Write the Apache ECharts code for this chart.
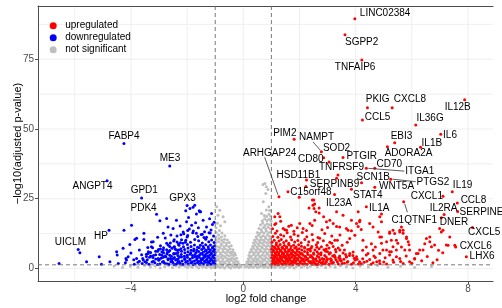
<!DOCTYPE html>
<html><head><meta charset="utf-8">
<script src="https://cdn.jsdelivr.net/npm/echarts@6/dist/echarts.min.js"></script>
<style>html,body{margin:0;padding:0;background:#fff}#c{width:502px;height:308px}</style>
</head><body><div id="c"></div>
<script>
// ---------- DATA ----------
const xTicks = [-4, 0, 4, 8];
const yTicks = [0, 25, 50, 75];
const xGrid = [-6, -4, -2, 0, 2, 4, 6, 8];
const yGrid = [0, 12.5, 25, 37.5, 50, 62.5, 75, 87.5];
const fcCut = 1;
const padjCut = 0.05;
const seriesNames = ['upregulated', 'downregulated', 'not significant'];

// labelled genes: [name, log2FC, -log10(padj)]
const upLabeled = [
["LINC02384",3.97,89.5],["SGPP2",3.62,83.8],["TNFAIP6",4.22,74.7],["PKIG",4.42,57.6],["CXCL8",5.30,57.6],
["IL12B",7.88,60.5],["CCL5",4.24,53.2],["IL36G",6.14,51.4],["IL6",7.03,48.1],["EBI3",5.39,45.1],
["IL1B",6.31,43.5],["ADORA2A",5.13,43.6],["PTGIR",3.55,39.8],["PIM2",1.81,46.3],["NAMPT",2.78,41.8],
["SOD2",2.86,39.7],["CD80",3.05,38.2],["TNFRSF9",3.37,33.5],["SERPINB9",3.32,32.3],["HSD11B1",2.25,31.7],
["C15orf48",1.59,27.5],["ARHGAP24",1.27,25.7],["IL23A",3.25,26.5],["STAT4",3.85,28.4],["SCN1B",4.21,30.7],
["WNT5A",4.68,29.1],["PTGS2",5.25,32.0],["CD70",4.68,35.9],["ITGA1",4.38,35.9],["IL1A",4.38,22.1],
["C1QTNF1",5.71,23.9],["CXCL1",7.11,25.9],["IL19",7.44,27.5],["CCL8",7.62,23.5],["IL2RA",7.15,19.3],
["SERPINE1",7.63,20.4],["DNER",7.05,18.2],["CXCL5",8.16,14.7],["CXCL6",7.56,7.7],["LHX6",7.94,4.2]
];
const downLabeled = [
["FABP4",-4.25,44.8],["ME3",-2.62,36.7],["ANGPT4",-4.85,31.4],["GPD1",-3.62,25.3],
["PDK4",-3.09,19.4],["GPX3",-2.0,22.6],["HP",-4.78,13.7],["UICLM",-5.88,6.8]
];

const upOther = [
[1.02,1.6],[1.08,2.1],[1.13,1.5],[1.19,1.9],[1.25,1.4],[1.3,2.2],[1.36,1.7],[1.42,1.5],[1.47,2.0],[1.53,1.6],[1.59,2.2],[1.65,1.5],[1.71,1.9],[1.77,1.4],[1.83,2.1],[1.9,1.7],[1.97,1.5],[2.04,2.0],[2.11,1.6],[2.19,1.8],[2.27,1.5],[2.36,2.1],[2.45,1.6],[2.55,1.9],[2.66,1.5],[2.77,2.0],[2.9,1.7],[3.05,1.5],[3.21,2.1],[3.38,1.6],[3.6,1.9],[3.85,1.5],[4.2,1.7],[4.62,2.0],[5.1,1.6],
[1.04,2.7],[1.1,3.1],[1.16,2.5],[1.22,2.9],[1.28,2.6],[1.34,3.2],[1.4,2.8],[1.46,2.4],[1.52,3.0],[1.58,2.6],[1.64,3.1],[1.7,2.7],[1.76,2.5],[1.82,3.0],[1.88,2.7],[1.94,3.2],[2.01,2.5],[2.08,2.9],[2.16,2.6],[2.24,3.1],[2.32,2.7],[2.41,2.5],[2.5,3.0],[2.61,2.7],[2.73,3.1],[2.84,2.5],[2.97,2.9],[3.12,2.6],[3.3,3.1],[3.49,2.7],[3.72,2.5],[3.98,3.0],[4.4,2.6],[4.85,2.8],[5.6,2.5],[6.1,3.4],
[1.01,3.8],[1.07,3.5],[1.13,4.1],[1.19,3.7],[1.25,3.4],[1.31,4.0],[1.37,3.6],[1.43,4.2],[1.49,3.8],[1.55,3.5],[1.61,4.0],[1.67,3.7],[1.73,4.2],[1.8,3.5],[1.86,3.9],[1.93,3.6],[2.0,4.1],[2.07,3.7],[2.14,3.4],[2.22,4.0],[2.3,3.6],[2.39,4.2],[2.48,3.7],[2.58,3.5],[2.69,4.0],[2.81,3.6],[2.95,4.1],[3.1,3.5],[3.27,3.9],[3.45,3.5],[3.67,4.1],[3.95,3.7],[4.25,3.5],[4.7,3.9],
[1.03,4.8],[1.09,4.5],[1.15,5.1],[1.21,4.6],[1.27,4.9],[1.33,4.4],[1.39,5.2],[1.45,4.7],[1.51,4.4],[1.57,5.0],[1.63,4.6],[1.69,5.2],[1.76,4.8],[1.83,4.5],[1.9,5.0],[1.97,4.6],[2.05,5.2],[2.13,4.7],[2.21,4.4],[2.3,5.0],[2.4,4.6],[2.51,5.1],[2.63,4.5],[2.76,4.9],[2.9,4.6],[3.06,5.2],[3.24,4.7],[3.43,4.5],[3.64,5.0],[3.9,4.6],
[1.02,5.8],[1.08,6.2],[1.14,5.5],[1.2,6.0],[1.26,5.6],[1.32,6.3],[1.38,5.8],[1.44,5.4],[1.5,6.1],[1.57,5.7],[1.64,6.3],[1.71,5.5],[1.78,6.0],[1.85,5.6],[1.92,6.2],[2.0,5.7],[2.09,5.4],[2.18,6.1],[2.28,5.7],[2.39,6.3],[2.5,5.5],[2.63,6.0],[2.77,5.6],[2.93,6.2],[3.1,5.6],[3.3,6.0],[3.55,5.5],
[1.01,6.9],[1.07,6.6],[1.13,7.3],[1.19,6.8],[1.26,7.1],[1.33,6.5],[1.4,7.2],[1.47,6.8],[1.54,7.4],[1.61,6.6],[1.68,7.0],[1.75,6.5],[1.83,7.3],[1.91,6.8],[1.99,7.1],[2.08,6.6],[2.18,7.3],[2.29,6.8],[2.41,7.2],[2.55,6.6],[2.7,7.1],[2.87,6.7],[3.05,7.3],[3.28,6.8],
[1.03,8.0],[1.1,7.7],[1.17,8.4],[1.24,7.9],[1.31,8.6],[1.38,7.6],[1.46,8.2],[1.54,7.8],[1.62,8.5],[1.7,7.9],[1.79,8.3],[1.88,7.7],[1.97,8.5],[2.07,8.0],[2.18,7.6],[2.3,8.4],[2.44,7.9],[2.6,8.5],[2.78,7.8],[2.98,8.3],[3.2,7.9],
[1.02,9.4],[1.1,10.1],[1.18,9.1],[1.27,9.8],[1.35,10.4],[1.44,9.3],[1.53,9.9],[1.62,9.0],[1.72,10.3],[1.83,9.5],[1.94,10.0],[2.06,9.2],[2.19,10.4],[2.33,9.6],[2.48,10.2],[2.65,9.3],[2.85,9.9],[3.08,9.4],[3.35,10.1],
[1.05,11.5],[1.14,12.6],[1.23,11.2],[1.33,12.1],[1.44,11.6],[1.56,12.8],[1.68,11.3],[1.81,12.3],[1.95,11.7],[2.1,12.9],[2.26,11.4],[2.45,12.2],[2.66,11.1],[2.9,12.5],[3.15,11.6],
[1.04,14.2],[1.12,15.8],[1.2,13.4],[1.33,16.9],[1.48,13.9],[1.62,15.1],[1.8,13.3],[1.92,14.6],[2.25,13.6],[2.45,15.4],[2.8,13.9],[3.0,14.7],
[1.24,19.7],[1.12,18.5],[1.3,18.5],[1.16,16.1],[1.42,14.3],[1.54,13.7],[1.71,15.5],[2.01,16.1],[2.37,16.1],[2.13,14.3],[2.51,24.5],[2.54,23.1],[2.7,21.7],[2.58,20.3],[2.7,19.9],[2.54,17.3],[2.86,18.5],[3.08,17.3],[2.96,16.7],[3.2,16.1],[3.32,20.3],[3.55,19.1],[3.43,14.9],[3.67,14.3],[3.85,17.3],[4.09,20.3],[4.15,17.3],[4.03,16.1],[4.2,14.0],[3.85,13.5],[3.97,11.9],[4.92,19.5],[4.62,14.9],[4.5,16.1],[4.8,13.1],[4.92,11.3],[5.21,13.1],[5.39,12.5],[5.57,13.1],[5.69,13.7],[5.81,11.3],[5.87,9.6],[6.7,7.8],[6.81,8.4],[6.22,5.4],[5.33,7.8],[5.1,9.6],[5.27,6.0],
[3.32,15.0],[3.73,13.7],[4.14,16.7],[4.86,18.5],[4.92,16.7],[5.21,12.6],[5.33,13.7],[5.57,13.7],[5.63,14.9],[5.69,12.6],[6.52,10.7],[6.64,11.3],[6.99,14.3],[7.11,13.7],[7.05,13.1],[7.29,8.3],[7.35,11.3],[6.46,8.9],[6.28,6.6],[6.1,3.6],[5.92,6.6],[5.75,6.6],[5.63,7.7],[5.45,6.6],[5.45,10.1],[5.27,10.1],[5.81,10.7],[4.86,11.3],[4.56,8.9],[4.62,6.6],[4.86,5.4],[5.1,6.6],[5.21,6.0],[4.38,7.7],[4.44,5.4],[4.26,10.1],[4.09,15.0],[4.03,4.2],[3.79,5.4],[3.44,6.6],[3.26,4.2],[3.14,3.0],[3.44,12.0],[3.26,10.1],[3.79,10.7],[7.53,8.3],
[4.38,4.8],[4.97,6.6],[5.33,3.0],[5.57,3.6],[6.16,5.4],[6.4,6.6],[6.64,9.6],[7.23,8.4],[3.91,5.9],[4.14,2.4],[3.44,3.0],[3.67,4.2],[5.21,4.8],[4.86,1.8],[5.69,1.8],[5.92,2.4],
[2.46,24.5],[2.48,22.7],[2.34,21.7],[2.52,21.5],[1.99,25.5],[2.23,29.4],
[2.42,1.9],[2.5,2.3],[2.6,1.4],[2.7,2.4],[2.82,1.6],[2.95,2.2],[3.0,3.4],[3.15,1.9],[3.18,4.5],[3.35,2.4],[3.4,3.8],[3.52,1.8],[3.58,3.3],[3.7,2.2],[3.78,4.6],[3.92,2.0],[4.05,3.3],[4.1,1.6],[4.3,2.2],[4.5,3.2],[4.55,1.5],[4.75,2.4],[2.45,4.1],[2.56,3.3],[2.68,5.3],[2.87,3.3],[3.0,6.0],[2.35,6.9],[2.62,7.6],[2.95,7.0],[3.38,7.3],[3.6,6.6],[3.15,9.0],[2.72,10.8],[3.52,8.3],[3.7,9.4],
[5.0,2.3],[5.35,2.2],[5.45,4.2],[5.8,4.5],[6.0,1.9],[6.35,2.8],[6.55,4.3],[6.9,3.1],[7.1,5.6],[6.95,6.5],[5.9,8.5],[5.5,9.0],[4.7,7.7],[4.25,6.5],[4.65,4.5],[6.75,2.0],[5.05,3.8],[4.92,9.0]
];

const downOther = [
[-1.02,1.7],[-1.08,2.1],[-1.15,1.5],[-1.21,1.9],[-1.28,1.4],[-1.35,2.2],[-1.42,1.6],[-1.49,2.0],[-1.56,1.5],[-1.63,2.1],[-1.71,1.7],[-1.79,1.4],[-1.87,2.0],[-1.96,1.6],[-2.05,2.2],[-2.15,1.5],[-2.26,1.9],[-2.38,1.6],[-2.51,2.1],[-2.65,1.5],[-2.8,1.9],[-2.97,1.6],[-3.15,2.0],[-3.36,1.5],[-3.6,1.8],[-3.88,1.5],[-4.2,2.0],
[-1.01,2.8],[-1.07,2.5],[-1.13,3.1],[-1.19,2.7],[-1.25,2.4],[-1.31,3.0],[-1.38,2.6],[-1.45,3.2],[-1.52,2.8],[-1.59,2.5],[-1.66,3.1],[-1.74,2.7],[-1.82,2.4],[-1.9,3.0],[-1.99,2.6],[-2.08,3.2],[-2.18,2.7],[-2.29,2.5],[-2.41,3.0],[-2.54,2.6],[-2.68,3.1],[-2.84,2.5],[-3.01,2.9],[-3.2,2.6],[-3.42,3.1],[-3.7,2.6],
[-1.03,3.7],[-1.09,4.1],[-1.16,3.5],[-1.22,3.9],[-1.29,3.4],[-1.36,4.2],[-1.43,3.7],[-1.5,3.5],[-1.57,4.0],[-1.65,3.6],[-1.73,4.2],[-1.81,3.8],[-1.9,3.4],[-1.99,4.0],[-2.09,3.6],[-2.2,4.1],[-2.32,3.5],[-2.45,3.9],[-2.6,3.6],[-2.76,4.2],[-2.93,3.7],[-3.12,3.4],[-3.34,4.0],[-3.58,3.6],
[-1.02,4.9],[-1.08,4.5],[-1.14,5.2],[-1.2,4.7],[-1.27,4.4],[-1.34,5.0],[-1.41,4.6],[-1.48,5.2],[-1.56,4.8],[-1.64,4.4],[-1.72,5.0],[-1.81,4.6],[-1.9,5.1],[-2.0,4.7],[-2.1,4.4],[-2.21,5.0],[-2.33,4.6],[-2.47,5.2],[-2.62,4.7],[-2.79,4.5],[-2.98,5.0],[-3.2,4.6],[-3.45,5.1],
[-1.01,5.7],[-1.07,6.2],[-1.14,5.5],[-1.21,6.0],[-1.28,5.6],[-1.35,6.3],[-1.43,5.8],[-1.51,5.4],[-1.59,6.1],[-1.68,5.7],[-1.77,6.3],[-1.87,5.5],[-1.97,6.0],[-2.08,5.6],[-2.2,6.2],[-2.33,5.7],[-2.48,5.4],[-2.65,6.1],[-2.84,5.6],[-3.05,6.2],[-3.3,5.7],
[-1.03,6.8],[-1.1,7.3],[-1.17,6.6],[-1.24,7.1],[-1.32,6.5],[-1.4,7.2],[-1.48,6.8],[-1.57,7.4],[-1.66,6.6],[-1.76,7.0],[-1.86,6.5],[-1.97,7.3],[-2.09,6.8],[-2.22,7.1],[-2.37,6.6],[-2.54,7.2],[-2.73,6.7],[-2.95,7.0],
[-1.02,8.1],[-1.09,7.7],[-1.17,8.4],[-1.25,7.8],[-1.34,8.5],[-1.43,7.9],[-1.53,8.3],[-1.63,7.6],[-1.74,8.4],[-1.86,7.9],[-1.99,8.6],[-2.13,7.8],[-2.29,8.3],[-2.47,7.7],[-2.68,8.4],
[-1.04,9.3],[-1.13,10.2],[-1.23,9.6],[-1.34,10.5],[-1.46,9.1],[-1.59,9.9],[-1.73,10.4],[-1.88,9.4],[-2.05,10.1],[-2.24,9.2],[-2.46,10.3],
[-1.06,11.6],[-1.18,12.7],[-1.31,11.2],[-1.46,12.3],[-1.62,11.5],[-1.8,12.8],[-2.0,11.3],[-2.22,12.1],
[-6.56,1.8],[-5.82,5.6],[-5.58,2.4],[-5.13,4.2],[-5.05,1.5],[-4.75,2.4],[-4.49,4.8],[-4.51,6.0],[-4.25,13.7],[-4.28,7.2],[-3.98,15.5],[-3.86,10.4],[-3.8,10.8],[-4.04,8.6],[-4.16,3.0],[-4.18,3.6],[-3.54,12.6],[-3.54,10.4],[-3.27,9.5],[-3.23,7.4],[-2.97,17.1],[-2.85,12.6],[-2.73,17.9],[-2.68,14.9],
[-1.73,22.7],[-1.9,21.5],[-1.55,20.3],[-1.43,17.3],[-2.02,16.7],[-2.38,17.3],[-2.5,14.3],[-1.84,15.5],[-1.31,14.9],[-1.13,19.7],[-1.67,12.6],[-2.14,13.1],
[-2.05,20.7],[-1.79,21.9],[-1.57,20.7],[-1.52,20.3],[-1.67,19.5],
[-4.45,1.8],[-4.1,4.2],[-3.8,3.6],[-3.56,3.0],[-3.39,5.4],[-3.27,7.8],[-3.21,9.6],[-3.03,3.6],[-2.85,6.6],[-2.73,9.0],
[-3.45,2.1],[-3.3,4.5],[-3.12,6.2],[-3.05,11.2],[-2.95,8.1],[-2.9,4.7],[-2.78,10.9],[-2.7,5.8],[-2.62,7.9],[-2.58,12.0],[-2.55,3.1],[-2.48,9.8],[-2.42,6.9],[-2.36,11.6],[-2.31,8.8],[-2.27,4.1],[-2.2,10.3],[-2.12,12.4],[-2.06,9.4],[-1.98,11.8],[-1.92,14.1],[-1.78,13.4],[-1.6,14.6],[-1.5,12.2],[-1.38,13.2],[-1.22,12.8],[-1.1,15.8],[-1.2,17.8],[-1.04,16.6],[-1.95,18.3],[-2.25,15.2],
[-2.24,1.6],[-2.33,2.2],[-2.46,1.4],[-2.58,2.4],[-2.72,1.7],[-2.88,2.3],[-3.05,1.4],[-3.25,2.3],[-3.5,2.4],[-3.75,2.2],[-2.36,3.2],[-2.5,3.6],[-2.68,3.5],[-2.85,4.0],[-3.0,3.2],[-3.22,3.9],[-3.45,4.3],[-2.4,5.4],[-2.56,4.4],[-2.72,5.2],[-2.9,5.9],[-3.12,4.9],[-3.38,6.0],[-2.3,6.6],[-2.45,7.8],[-2.62,6.4],[-2.84,7.4],[-3.02,6.8],[-2.15,9.0],[-2.36,9.5],[-2.6,9.1],[-3.4,7.5],[-3.62,4.9],[-3.9,3.1],[-4.0,5.5],[-3.7,6.6],[-1.98,13.6],[-1.4,11.1],[-1.15,13.8],[-1.7,16.4]
];

const nsPoints = [
[-0.98,0.4],[-0.9,0.8],[-0.83,0.3],[-0.75,0.7],[-0.67,0.2],[-0.6,0.9],[-0.52,0.5],[-0.45,0.2],[-0.37,0.8],[-0.3,0.4],[-0.22,0.7],[-0.15,0.3],[-0.08,0.6],
[-0.97,1.5],[-0.89,1.2],[-0.81,1.8],[-0.73,1.4],[-0.65,1.9],[-0.57,1.3],[-0.49,1.7],[-0.41,1.2],[-0.33,1.8],[-0.25,1.4],[-0.17,1.6],[-0.12,1.2],
[-0.99,2.5],[-0.91,2.9],[-0.83,2.3],[-0.75,2.7],[-0.67,2.2],[-0.59,2.8],[-0.51,2.4],[-0.43,2.9],[-0.35,2.3],[-0.27,2.6],[-0.19,2.4],
[-0.96,3.6],[-0.88,3.2],[-0.8,3.9],[-0.72,3.4],[-0.64,4.0],[-0.56,3.5],[-0.48,3.3],[-0.4,3.8],[-0.32,3.4],[-0.24,3.7],
[-0.98,4.7],[-0.9,4.4],[-0.82,5.1],[-0.74,4.6],[-0.66,4.3],[-0.58,4.9],[-0.5,4.5],[-0.42,5.0],[-0.34,4.6],[-0.28,4.8],
[-0.97,5.8],[-0.89,6.2],[-0.81,5.5],[-0.72,6.0],[-0.64,5.6],[-0.55,6.1],[-0.47,5.7],[-0.39,5.9],[-0.31,5.5],
[-0.99,6.9],[-0.9,6.6],[-0.82,7.3],[-0.73,6.8],[-0.65,7.1],[-0.56,6.6],[-0.47,7.0],[-0.37,6.7],
[-0.96,8.0],[-0.87,7.7],[-0.78,8.4],[-0.69,7.9],[-0.6,8.2],[-0.51,7.8],[-0.43,8.1],
[-0.98,9.2],[-0.88,9.6],[-0.79,8.9],[-0.7,9.4],[-0.6,9.0],[-0.5,9.3],
[-0.97,10.3],[-0.87,10.7],[-0.77,10.1],[-0.67,10.5],[-0.57,10.2],
[-0.98,11.4],[-0.88,12.0],[-0.78,11.3],[-0.66,11.7],
[-0.96,12.9],[-0.85,13.6],[-0.76,12.7],
[-0.95,22.1],[-0.84,20.9],[-0.9,19.1],[-0.72,18.5],[-0.66,16.7],[-0.92,16.2],[-0.81,15.3],[-0.97,14.6],
[0.06,0.5],[0.13,0.8],[0.2,0.3],[0.28,0.7],[0.35,0.4],[0.43,0.9],[0.5,0.3],[0.58,0.6],[0.65,0.9],[0.73,0.4],[0.8,0.7],[0.88,0.3],[0.96,0.8],
[0.1,1.4],[0.18,1.8],[0.26,1.3],[0.34,1.7],[0.42,1.2],[0.5,1.9],[0.58,1.4],[0.66,1.7],[0.74,1.3],[0.82,1.8],[0.9,1.5],[0.97,1.2],
[0.13,2.4],[0.21,2.8],[0.29,2.3],[0.37,2.7],[0.45,2.5],[0.53,2.9],[0.61,2.4],[0.69,2.6],[0.77,2.9],[0.85,2.3],[0.93,2.7],[0.99,2.4],
[0.18,3.5],[0.26,3.9],[0.34,3.3],[0.42,3.7],[0.5,3.4],[0.58,4.0],[0.66,3.6],[0.74,3.3],[0.82,3.8],[0.9,3.5],[0.98,3.9],
[0.2,4.6],[0.28,4.4],[0.36,5.0],[0.44,4.5],[0.52,4.9],[0.6,4.4],[0.68,4.8],[0.76,4.5],[0.84,5.1],[0.92,4.6],[0.99,4.9],
[0.23,5.7],[0.31,6.1],[0.39,5.5],[0.47,5.9],[0.55,5.6],[0.63,6.2],[0.71,5.7],[0.79,6.0],[0.87,5.5],[0.95,6.1],
[0.28,6.8],[0.36,7.2],[0.44,6.6],[0.52,7.0],[0.6,6.7],[0.68,7.3],[0.76,6.8],[0.84,7.1],[0.92,6.6],[0.99,7.2],
[0.33,7.9],[0.41,8.3],[0.49,7.7],[0.57,8.1],[0.65,7.8],[0.73,8.4],[0.81,7.9],[0.89,8.2],[0.97,7.7],
[0.36,9.1],[0.44,9.5],[0.52,8.9],[0.6,9.3],[0.68,9.0],[0.76,9.6],[0.84,9.1],[0.92,9.4],[0.99,8.9],
[0.4,10.2],[0.48,10.6],[0.56,10.0],[0.64,10.4],[0.72,10.1],[0.8,10.7],[0.88,10.2],[0.96,10.5],
[0.46,11.4],[0.54,11.9],[0.62,11.2],[0.7,11.7],[0.78,11.3],[0.86,12.0],[0.94,11.5],
[0.5,12.9],[0.58,12.5],[0.66,13.2],[0.74,12.7],[0.82,13.4],[0.9,12.8],[0.98,13.1],
[0.56,14.3],[0.64,13.9],[0.72,14.7],[0.8,14.1],[0.88,14.8],[0.96,14.2],
[0.61,15.6],[0.69,16.2],[0.77,15.4],[0.85,16.0],[0.93,15.7],
[0.68,17.1],[0.76,17.8],[0.84,17.2],[0.92,17.6],[0.99,16.9],
[0.75,19.0],[0.83,18.6],[0.91,19.4],[0.97,18.8],
[0.77,30.5],[0.82,29.3],[0.88,28.3],[0.8,26.9],[0.71,23.9],[0.91,22.1],[0.82,21.0],[0.65,19.7],[0.94,20.8],[0.7,30.1],
[-1.03,0.4],[-1.08,0.9],[-1.14,0.2],[-1.2,0.7],[-1.26,1.1],[-1.32,0.3],[-1.38,0.8],[-1.45,0.5],[-1.52,1.0],[-1.59,0.2],[-1.66,0.7],[-1.74,1.2],[-1.82,0.4],[-1.9,0.9],[-1.99,0.3],[-2.08,0.8],[-2.18,1.1],[-2.28,0.5],[-2.4,0.9],[-2.52,0.3],[-2.66,1.0],[-2.8,0.6],[-2.96,0.2],[-3.13,0.9],[-3.31,0.5],[-3.52,1.1],[-3.75,0.4],[-4.02,0.8],[-4.3,0.3],[-4.6,0.9],
[1.03,0.5],[1.08,1.0],[1.13,0.3],[1.19,0.8],[1.25,1.2],[1.31,0.4],[1.37,0.9],[1.44,0.2],[1.51,0.7],[1.58,1.1],[1.65,0.4],[1.73,0.9],[1.81,0.2],[1.89,0.7],[1.98,1.1],[2.07,0.4],[2.17,0.9],[2.28,0.3],[2.39,0.8],[2.51,1.2],[2.64,0.5],[2.78,1.0],[2.93,0.3],[3.09,0.8],[3.27,0.4],[3.46,1.0],[3.67,0.6],[3.9,0.2],[4.16,0.9],[4.45,0.5],[4.78,1.1],[5.15,0.4],[5.6,0.8],[6.1,0.3],[6.7,0.7]
];

// ---------- LAYOUT (pixel offsets of labels, not data) ----------
const labelOffsets = {
LINC02384:[5,-5.4],SGPP2:[0,7.3],TNFAIP6:[-27,6.7],PKIG:[-1.7,-8.4],CXCL8:[1.7,-8.4],IL12B:[-20,7.6],
CCL5:[2.3,-2.7],IL36G:[0.7,-7.3],IL6:[2.3,0.7],EBI3:[-4,-6],IL1B:[1,-3.7],ADORA2A:[-2.7,6.6],
PTGIR:[3.4,-1.3],PIM2:[-21,-6],NAMPT:[-22.4,-15],SOD2:[-0.7,-9.4],CD80:[-31,-2.7],TNFRSF9:[-19,-7.7],
SERPINB9:[-26.7,5.7],HSD11B1:[-30,-5],C15orf48:[2.4,0.6],ARHGAP24:[-36,-44],IL23A:[-8.7,8.4],
STAT4:[1.6,6],SCN1B:[-5,-6],WNT5A:[4.3,-1.3],PTGS2:[25.7,2.7],CD70:[1.7,-4.3],ITGA1:[39,3.4],
IL1A:[2.6,1.6],C1QTNF1:[-12.3,18.3],CXCL1:[-32.3,-0.3],IL19:[0.6,-6.7],CCL8:[3.3,-2.7],
IL2RA:[-14.5,-6.2],SERPINE1:[2,0.2],DNER:[-1.5,4.2],CXCL5:[-4.4,4.4],CXCL6:[4,-1],LHX6:[3.3,-0.7],
FABP4:[-15.5,-7.3],ME3:[-10,-7.7],ANGPT4:[-34.6,5.3],GPD1:[-11,-7.7],PDK4:[-26,-6],GPX3:[-18,-7],
HP:[-15,6],UICLM:[-23.3,-7]
};
const leaderLines = {
NAMPT:[-8.4,-10,-1,-1.5], ARHGAP24:[-14.3,-39.5,-1,-2], ITGA1:[2,0,38,2.8],
PTGS2:[2,0,25,2.5], C1QTNF1:[1,2,3.7,10.5]
};

const FONT = '"Liberation Sans", Arial, Helvetica, sans-serif';
const allLabeled = upLabeled.concat(downLabeled);
const X_MIN = -7.31, X_MAX = 8.89, Y_MIN = -4.5, Y_MAX = 94.1;
const minus = v => String(v).replace('-', '\u2212');

const chart = echarts.init(document.getElementById('c'), null, {renderer: 'canvas'});

function vLines(vals, style, z) {
  return {
    type: 'custom', coordinateSystem: 'cartesian2d', silent: true, z: z, clip: true,
    data: vals.map(v => [v, 0]),
    renderItem: (params, api) => {
      const cs = params.coordSys;
      const x = api.coord([api.value(0), 0])[0];
      return {type: 'line', shape: {x1: x, y1: cs.y, x2: x, y2: cs.y + cs.height}, style: style};
    }
  };
}
function hLines(vals, style, z) {
  return {
    type: 'custom', coordinateSystem: 'cartesian2d', silent: true, z: z, clip: true,
    data: vals.map(v => [0, v]),
    renderItem: (params, api) => {
      const cs = params.coordSys;
      const y = api.coord([0, api.value(1)])[1];
      return {type: 'line', shape: {x1: cs.x, y1: y, x2: cs.x + cs.width, y2: y}, style: style};
    }
  };
}
const gridStyle = {stroke: '#EBEBEB', lineWidth: 0.8};
const dashStyle = {stroke: '#6A6A6A', lineWidth: 0.9, lineDash: [4, 3]};

const option = {
  animation: false,
  backgroundColor: '#fff',
  grid: {left: 38, top: 6, width: 455, height: 275, containLabel: false, outerBoundsMode: 'none'},
  legend: {
    orient: 'vertical', left: 44.7, top: 14.7, itemWidth: 14, itemHeight: 7, itemGap: 0,
    icon: 'circle', data: seriesNames,
    textStyle: {fontSize: 10, fontFamily: FONT, color: '#000', lineHeight: 12, padding: 0}
  },
  xAxis: [{
    type: 'value', min: X_MIN, max: X_MAX, position: 'bottom',
    axisLine: {show: true, onZero: false, lineStyle: {color: '#4d4d4d', width: 1}},
    axisTick: {show: true, length: 3, customValues: xTicks, lineStyle: {color: '#4d4d4d'}},
    axisLabel: {show: true, customValues: xTicks, margin: 3, fontSize: 10, fontFamily: FONT, color: '#4D4D4D', formatter: minus},
    splitLine: {show: false}
  }, {
    type: 'value', min: X_MIN, max: X_MAX, position: 'top',
    axisLine: {show: true, onZero: false, lineStyle: {color: '#4d4d4d', width: 1}},
    axisTick: {show: false}, axisLabel: {show: false}, splitLine: {show: false}
  }],
  yAxis: {
    type: 'value', min: Y_MIN, max: Y_MAX,
    axisLine: {show: true, onZero: false, lineStyle: {color: '#4d4d4d', width: 1}},
    axisTick: {show: true, length: 3, customValues: yTicks, lineStyle: {color: '#4d4d4d'}},
    axisLabel: {show: true, customValues: yTicks, margin: 4, fontSize: 10, fontFamily: FONT, color: '#4D4D4D', formatter: minus},
    splitLine: {show: false}
  },
  graphic: [
    {type: 'text', x: 266, y: 298.5, silent: true,
     style: {text: 'log2 fold change', fontSize: 11, fontFamily: FONT, fill: '#000', align: 'center', verticalAlign: 'middle'}},
    {type: 'text', x: 17.5, y: 143.5, rotation: Math.PI / 2, silent: true,
     style: {text: '\u2212log10(adjusted p-value)', fontSize: 11, fontFamily: FONT, fill: '#000', align: 'center', verticalAlign: 'middle'}}
  ],
  series: [
    vLines(xGrid, gridStyle, 0),
    hLines(yGrid, gridStyle, 0),
    vLines([-fcCut, fcCut], dashStyle, 5),
    hLines([-Math.log10(padjCut)], dashStyle, 5),
    {name: 'not significant', type: 'scatter', symbolSize: 3, z: 2, data: nsPoints,
     itemStyle: {color: '#BEBEBE', opacity: 1}, silent: true},
    {name: 'downregulated', type: 'scatter', symbolSize: 3, z: 3,
     data: downLabeled.map(d => [d[1], d[2]]).concat(downOther),
     itemStyle: {color: '#0000FF', opacity: 1}, silent: true},
    {name: 'upregulated', type: 'scatter', symbolSize: 3, z: 3,
     data: upLabeled.map(d => [d[1], d[2]]).concat(upOther),
     itemStyle: {color: '#FF0000', opacity: 1}, silent: true},
    {type: 'custom', coordinateSystem: 'cartesian2d', silent: true, z: 10, clip: false,
     data: allLabeled.map(d => [d[1], d[2]]),
     renderItem: (params, api) => {
       const name = allLabeled[params.dataIndex][0];
       const p = api.coord([api.value(0), api.value(1)]);
       const off = labelOffsets[name] || [3, 0];
       const children = [{
         type: 'text', x: p[0] + off[0], y: p[1] + off[1],
         style: {text: name, fontSize: 10, fontFamily: FONT, fill: '#000', align: 'left', verticalAlign: 'middle'}
       }];
       const ln = leaderLines[name];
       if (ln) {
         children.push({type: 'line', shape: {x1: p[0] + ln[0], y1: p[1] + ln[1], x2: p[0] + ln[2], y2: p[1] + ln[3]},
           style: {stroke: '#333', lineWidth: 0.8}});
       }
       return {type: 'group', children: children};
     }}
  ]
};
chart.setOption(option);
</script>
</body></html>
